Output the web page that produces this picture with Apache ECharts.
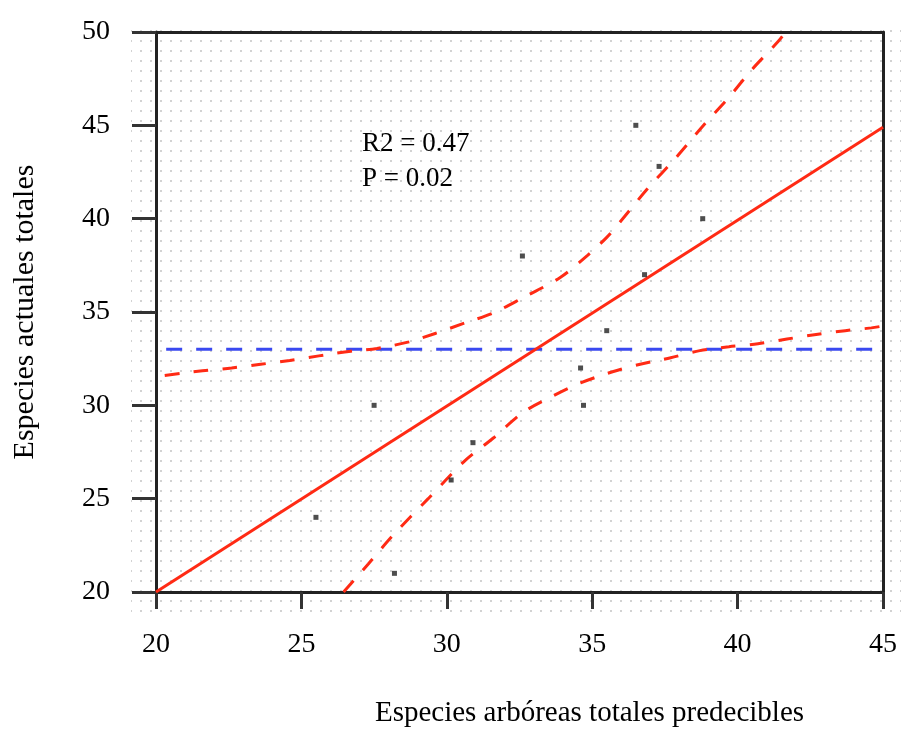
<!DOCTYPE html>
<html>
<head>
<meta charset="utf-8">
<script src="https://cdn.jsdelivr.net/npm/echarts@6/dist/echarts.min.js"></script>
<style>
  html, body { margin: 0; padding: 0; background: #ffffff; }
  #chart { width: 907px; height: 733px; }
</style>
</head>
<body>
<div id="chart"></div>
<script>
// Observed sites: predicted vs. actual total species
const obsX = [25.5, 27.5, 28.2, 30.15, 30.9, 32.6, 34.6, 34.7, 35.5, 36.5, 36.8, 37.3, 38.8];
const obsY = [24, 30, 21, 26, 28, 38, 32, 30, 34, 45, 37, 42.8, 40];

// Fitted regression line (end points)
const fitX = [20, 45];
const fitY = [20, 44.9];

// Mean of the actual species count
const meanX = [20.35, 45];
const meanY = [33, 33];

// Upper confidence band
const upperX = [20.3, 21.6, 22.6, 23.6, 24.6, 25.6, 26.7, 27.6, 28.7, 29.6, 30.6, 31.6, 32.6, 33.9, 34.85, 35.5, 36.0, 36.9, 37.9, 38.8, 39.7, 40.5, 41.4, 41.65];
const upperY = [31.6, 31.85, 32.0, 32.2, 32.4, 32.65, 32.9, 33.05, 33.4, 33.85, 34.4, 34.95, 35.75, 36.85, 38.05, 39.0, 39.9, 41.6, 43.3, 44.95, 46.5, 48.0, 49.5, 50];

// Lower confidence band
const lowerX = [26.45, 27.3, 28.17, 29.36, 30.6, 31.6, 32.6, 33.65, 34.6, 35.7, 36.65, 37.7, 38.7, 39.7, 40.7, 41.7, 42.7, 43.7, 44.6, 45];
const lowerY = [20, 21.5, 23.07, 25.0, 27.0, 28.25, 29.6, 30.5, 31.2, 31.8, 32.2, 32.55, 32.93, 33.14, 33.3, 33.55, 33.8, 34.0, 34.15, 34.25];

// Axis ticks and statistics
const xTicks = [20, 25, 30, 35, 40, 45];
const yTicks = [20, 25, 30, 35, 40, 45, 50];
const statLines = ['R2 = 0.47', 'P = 0.02'];

const zip = (a, b) => a.map((v, i) => [v, b[i]]);

const SERIF = '"Liberation Serif", "DejaVu Serif", serif';
const RED = '#ff2a14';
const BLUE = '#3a48f0';

// dotted backdrop tile
const tile = document.createElement('canvas');
tile.width = 10; tile.height = 10;
const tctx = tile.getContext('2d');
tctx.fillStyle = '#d2d2d2';
tctx.fillRect(0, 0, 2, 2);

const chart = echarts.init(document.getElementById('chart'), null, { renderer: 'canvas' });

const xStep = xTicks[1] - xTicks[0];
const yStep = yTicks[1] - yTicks[0];

chart.setOption({
  backgroundColor: '#ffffff',
  animation: false,
  grid: { left: 156, right: 24, top: 32, bottom: 139.5, containLabel: false },
  graphic: [
    {
      type: 'rect', z: -10, silent: true,
      shape: { x: 131, y: 25, width: 770, height: 587 },
      style: { fill: { image: tile, repeat: 'repeat' } }
    },
    {
      type: 'text', z: 100,
      style: { text: statLines[0], x: 362, y: 144, font: '27px ' + SERIF, fill: '#000', verticalAlign: 'middle' }
    },
    {
      type: 'text', z: 100,
      style: { text: statLines[1], x: 362, y: 179, font: '27px ' + SERIF, fill: '#000', verticalAlign: 'middle' }
    }
  ],
  xAxis: [
    {
      type: 'value', position: 'bottom',
      min: xTicks[0], max: xTicks[xTicks.length - 1], interval: xStep,
      axisLine: { show: true, lineStyle: { color: '#222', width: 3 } },
      axisTick: { show: true, inside: false, length: 17, lineStyle: { color: '#333', width: 3 } },
      axisLabel: { margin: 39, fontSize: 28, fontFamily: SERIF, color: '#000' },
      splitLine: { show: false },
      name: 'Especies arbóreas totales predecibles',
      nameLocation: 'middle', nameGap: 107,
      nameTextStyle: { fontSize: 29, fontFamily: SERIF, color: '#000', padding: [0, 0, 0, 140] }
    },
    {
      type: 'value', position: 'top',
      min: xTicks[0], max: xTicks[xTicks.length - 1], interval: xStep,
      axisLine: { show: true, lineStyle: { color: '#222', width: 3 } },
      axisTick: { show: false }, axisLabel: { show: false }, splitLine: { show: false }
    }
  ],
  yAxis: [
    {
      type: 'value', position: 'left',
      min: yTicks[0], max: yTicks[yTicks.length - 1], interval: yStep,
      axisLine: { show: true, lineStyle: { color: '#222', width: 3 } },
      axisTick: { show: true, inside: false, length: 24, lineStyle: { color: '#333', width: 3 } },
      axisLabel: { margin: 46, fontSize: 28, fontFamily: SERIF, color: '#000' },
      splitLine: { show: false },
      name: 'Especies actuales totales',
      nameLocation: 'middle', nameGap: 116, nameRotate: 90,
      nameTextStyle: { fontSize: 30, fontFamily: SERIF, color: '#000' }
    },
    {
      type: 'value', position: 'right',
      min: yTicks[0], max: yTicks[yTicks.length - 1], interval: yStep,
      axisLine: { show: true, lineStyle: { color: '#222', width: 3 } },
      axisTick: { show: false }, axisLabel: { show: false }, splitLine: { show: false }
    }
  ],
  series: [
    {
      name: 'media', type: 'line', data: zip(meanX, meanY),
      symbol: 'none', z: 3,
      lineStyle: { color: BLUE, width: 3, type: [16, 14] }
    },
    {
      name: 'banda superior', type: 'line', data: zip(upperX, upperY),
      symbol: 'none', smooth: 0.3, z: 4,
      lineStyle: { color: RED, width: 3, type: [15, 14] }
    },
    {
      name: 'banda inferior', type: 'line', data: zip(lowerX, lowerY),
      symbol: 'none', smooth: 0.3, z: 4,
      lineStyle: { color: RED, width: 3, type: [15, 14] }
    },
    {
      name: 'ajuste', type: 'line', data: zip(fitX, fitY),
      symbol: 'none', z: 5,
      lineStyle: { color: RED, width: 3 }
    },
    {
      name: 'observado', type: 'scatter', data: zip(obsX, obsY),
      symbol: 'rect', symbolSize: 5, z: 6,
      itemStyle: { color: '#222' }
    }
  ]
});
</script>
</body>
</html>
